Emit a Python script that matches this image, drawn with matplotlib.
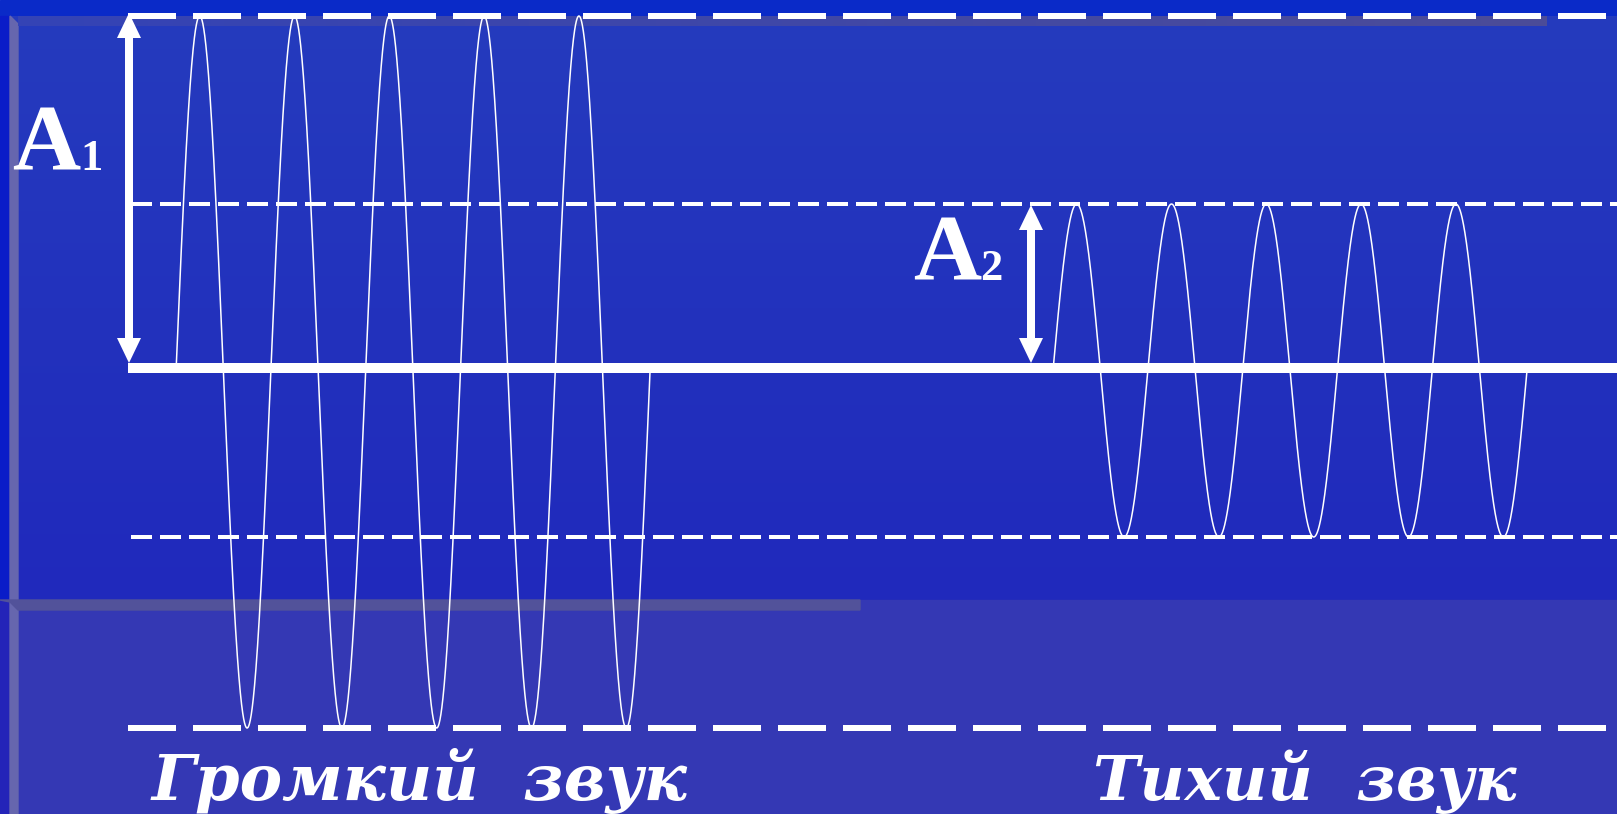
import numpy as np
import matplotlib
matplotlib.use("Agg")
import matplotlib.pyplot as plt
from matplotlib.patches import Rectangle, Polygon

W, H = 1617, 814
DPI = 100
PT = 72.0 / DPI  # pixels -> points

# ---------------- data (slide pixel units) ----------------
wave_names = ["Громкий  звук", "Тихий  звук"]
wave_start_x = [176, 1053]          # where each wave leaves the baseline
wave_period = [94.8, 94.8]          # length of one oscillation
wave_cycles = [5, 5]                # number of oscillations
wave_top_y = [16, 204]              # crest level (dashed line)
wave_bottom_y = [728, 537]          # trough level (dashed line)
level_start_x = [128, 131]          # where the dashed level lines begin
level_lw_px = [6, 4]
level_dash_px = [(48, 17), (21, 8)]

baseline_y = 368
baseline_x0 = 128

amp_letters = ["A", "A"]
amp_indices = ["1", "2"]
amp_arrow_x = [129, 1031]
amp_arrow_top = [13, 205]
amp_arrow_bottom = [363, 363]
amp_letter_x = [12, 913]
amp_index_x = [80, 980]
amp_text_baseline = [170, 280]

name_x = [152, 1093]
name_right_x = [688, 1517]
name_baseline = 800

# ---------------- figure ----------------
fig = plt.figure(figsize=(W / DPI, H / DPI), dpi=DPI)
ax = fig.add_axes([0, 0, 1, 1])
ax.set_xlim(0, W)
ax.set_ylim(H, 0)
ax.axis("off")
plt.rcParams["lines.scale_dashes"] = False


def rgb(h):
    h = h.lstrip("#")
    return np.array([int(h[i:i + 2], 16) for i in (0, 2, 4)]) / 255.0


# background layers
ax.add_patch(Rectangle((0, 0), W, H, color="#0A2AC8", zorder=0))
ax.add_patch(Rectangle((0, 16), 10, 584, color="#0A1CC8", zorder=0.1))
ax.add_patch(Rectangle((0, 600), 10, 214, color="#2424B8", zorder=0.1))
top_c, bot_c = rgb("#253BBE"), rgb("#2029BC")
t = np.linspace(0, 1, 256)[:, None]
grad = (top_c[None, :] * (1 - t) + bot_c[None, :] * t)[:, None, :]
ax.imshow(grad, extent=(10, W, 600, 16), aspect="auto", zorder=0.2,
          interpolation="bilinear")
ax.add_patch(Rectangle((10, 600), W - 10, 214, color="#3438B4", zorder=0.2))
ax.add_patch(Polygon([(10, 16), (18, 24), (18, 814), (10, 814)],
                     closed=True, color="#6666AE", zorder=0.3))
tb_l, tb_r = rgb("#3443B6"), rgb("#4C4C98")
s = np.linspace(0, 1, 256)[None, :]
hcols = (tb_l[None, None, :] * (1 - s[..., None]) + tb_r[None, None, :] * s[..., None])
ax.imshow(hcols, extent=(18, 1546, 26, 16), aspect="auto", zorder=0.3,
          interpolation="bilinear")
ax.add_patch(Polygon([(0, 600), (860, 600), (860, 610), (18, 610), (10, 602)],
                     closed=True, color="#52529A", zorder=0.3))

# dashed level lines
for i in range(2):
    for yv in (wave_top_y[i], wave_bottom_y[i]):
        ax.plot([level_start_x[i], W + 5], [yv, yv], color="white",
                lw=level_lw_px[i] * PT, solid_capstyle="butt",
                dash_capstyle="butt",
                dashes=(level_dash_px[i][0] * PT, level_dash_px[i][1] * PT),
                zorder=2)

# baseline
ax.plot([baseline_x0, W + 5], [baseline_y, baseline_y], color="white",
        lw=10 * PT, solid_capstyle="butt", zorder=3)

# waves
for i in range(2):
    x0 = wave_start_x[i]
    x1 = x0 + wave_period[i] * wave_cycles[i]
    xs = np.linspace(x0, x1, 3000)
    mid = (wave_top_y[i] + wave_bottom_y[i]) / 2.0
    amp = (wave_bottom_y[i] - wave_top_y[i]) / 2.0
    ys = mid - amp * np.sin(2 * np.pi * (xs - x0) / wave_period[i])
    ax.plot(xs, ys, color="white", lw=1.1, zorder=4, antialiased=True)

# amplitude arrows
head_len, head_w, shaft_w = 25, 24, 8
for i in range(2):
    x = amp_arrow_x[i]
    yt, yb = amp_arrow_top[i], amp_arrow_bottom[i]
    ax.plot([x, x], [yt + head_len - 2, yb - head_len + 2], color="white",
            lw=shaft_w * PT, solid_capstyle="butt", zorder=5)
    ax.add_patch(Polygon([(x, yt), (x - head_w / 2, yt + head_len),
                          (x + head_w / 2, yt + head_len)],
                         closed=True, color="white", zorder=5, lw=0))
    ax.add_patch(Polygon([(x, yb), (x - head_w / 2, yb - head_len),
                          (x + head_w / 2, yb - head_len)],
                         closed=True, color="white", zorder=5, lw=0))

serif = ["Liberation Serif", "DejaVu Serif"]
for i in range(2):
    ax.text(amp_letter_x[i], amp_text_baseline[i], amp_letters[i],
            family=serif, weight="bold", fontsize=68, color="white",
            ha="left", va="baseline", zorder=6)
    ax.text(amp_index_x[i], amp_text_baseline[i], amp_indices[i],
            family=serif, weight="bold", fontsize=32, color="white",
            ha="left", va="baseline", zorder=6)

renderer = fig.canvas.get_renderer()
name_font = ["DejaVu Serif"]
for i in range(2):
    txt = ax.text(name_x[i], name_baseline, wave_names[i], family=name_font,
                  weight="bold", style="italic", fontsize=46, color="white",
                  ha="left", va="baseline", zorder=6)
    wpx = txt.get_window_extent(renderer).width
    txt.set_fontsize(46 * (name_right_x[i] - name_x[i]) / wpx)

fig.savefig("out.png", dpi=DPI)
